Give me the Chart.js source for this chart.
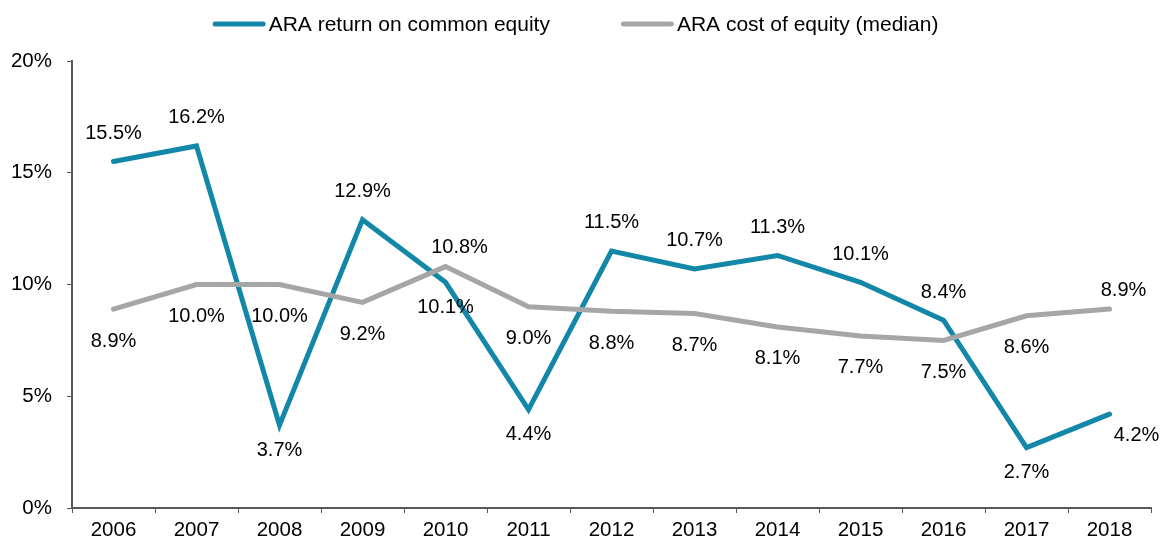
<!DOCTYPE html>
<html>
<head>
<meta charset="utf-8">
<script src="https://cdn.jsdelivr.net/npm/chart.js@4/dist/chart.umd.min.js"></script>
<style>
  html, body { margin: 0; padding: 0; background: #fff; }
  #wrap { width: 1163px; height: 545px; position: relative; }
</style>
</head>
<body>
<div id="wrap"><canvas id="chart"></canvas></div>
<script>
const years = ["2006","2007","2008","2009","2010","2011","2012","2013","2014","2015","2016","2017","2018"];
const roe = [15.5, 16.2, 3.7, 12.9, 10.1, 4.4, 11.5, 10.7, 11.3, 10.1, 8.4, 2.7, 4.2];
const coe = [8.9, 10.0, 10.0, 9.2, 10.8, 9.0, 8.8, 8.7, 8.1, 7.7, 7.5, 8.6, 8.9];
const yTicks = [0, 5, 10, 15, 20];

// where each value label sits: a = above, b = below, ar = above right, br = below right
const roeLabelPos = ["a","a","b","a","b","b","a","a","a","a","a","b","br"];
const coeLabelPos = ["b","b","b","b","ar","b","b","b","b","b","b","b","ar"];

const FONT = "'Liberation Sans', Arial, sans-serif";
const BLUE = "#1287a8";
const GREY = "#a6a6a6";
const AXIS = "#595959";

const labelOffsets = {
  roe: { a: [0, -28], b: [0, 25], ar: [14, -19], br: [27, 21] },
  coe: { a: [0, -19], b: [0, 32], ar: [14, -19], br: [27, 21] }
};

// value labels on each point
const valueLabels = {
  id: "valueLabels",
  afterDatasetsDraw(chart) {
    const ctx = chart.ctx;
    ctx.save();
    ctx.font = "20px " + FONT;
    ctx.fillStyle = "#000";
    ctx.textAlign = "center";
    ctx.textBaseline = "middle";
    chart.data.datasets.forEach((ds, i) => {
      const meta = chart.getDatasetMeta(i);
      const offs = labelOffsets[ds.key];
      meta.data.forEach((pt, j) => {
        const o = offs[ds.labelPos[j]];
        ctx.fillText(ds.data[j].toFixed(1) + "%", pt.x + o[0], pt.y + o[1]);
      });
    });
    ctx.restore();
  }
};

// legend drawn by hand so the line samples and spacing match
const lineLegend = {
  id: "lineLegend",
  afterDraw(chart) {
    const ctx = chart.ctx;
    const sample = 53, gap = 3, between = 71, y = 24;
    ctx.save();
    ctx.font = "21px " + FONT;
    const items = chart.data.datasets.map(ds => ({ ds, w: ctx.measureText(ds.label).width }));
    const total = items.reduce((s, it) => s + sample + gap + it.w, 0) + between * (items.length - 1);
    let x = (chart.width - 12 - total) / 2;
    items.forEach(it => {
      ctx.strokeStyle = it.ds.borderColor;
      ctx.lineWidth = 5;
      ctx.lineCap = "round";
      ctx.beginPath();
      ctx.moveTo(x + 2.5, y);
      ctx.lineTo(x + sample - 2.5, y);
      ctx.stroke();
      ctx.fillStyle = "#000";
      ctx.textBaseline = "middle";
      ctx.textAlign = "left";
      ctx.fillText(it.ds.label, x + sample + gap, y + 1);
      x += sample + gap + it.w + between;
    });
    ctx.restore();
  }
};

new Chart(document.getElementById("chart"), {
  type: "line",
  data: {
    labels: years,
    datasets: [
      {
        key: "roe",
        label: "ARA return on common equity",
        data: roe,
        labelPos: roeLabelPos,
        borderColor: BLUE,
        backgroundColor: BLUE,
        borderWidth: 5,
        borderCapStyle: "round",
        pointRadius: 0,
        tension: 0,
        order: 1
      },
      {
        key: "coe",
        label: "ARA cost of equity (median)",
        data: coe,
        labelPos: coeLabelPos,
        borderColor: GREY,
        backgroundColor: GREY,
        borderWidth: 5,
        borderCapStyle: "round",
        pointRadius: 0,
        tension: 0,
        order: 0
      }
    ]
  },
  options: {
    responsive: true,
    maintainAspectRatio: false,
    animation: false,
    layout: { padding: { top: 61, right: 12, left: 0, bottom: 0 } },
    plugins: {
      legend: { display: false },
      tooltip: { enabled: false }
    },
    scales: {
      x: {
        offset: true,
        grid: {
          offset: true,
          drawOnChartArea: false,
          drawTicks: true,
          tickLength: 5,
          color: AXIS,
          lineWidth: 1
        },
        border: { color: AXIS, width: 2 },
        ticks: {
          color: "#000",
          font: { family: FONT, size: 20.5 },
          padding: 5,
          maxRotation: 0,
          autoSkip: false
        },
        afterFit: s => { s.height = 37; }
      },
      y: {
        min: 0,
        max: 20,
        grid: {
          drawOnChartArea: false,
          drawTicks: true,
          tickLength: 5,
          color: AXIS,
          lineWidth: 1
        },
        border: { color: AXIS, width: 2 },
        afterBuildTicks: s => { s.ticks = yTicks.map(v => ({ value: v })); },
        ticks: {
          color: "#000",
          font: { family: FONT, size: 20.5 },
          padding: 15,
          callback: v => v + "%"
        },
        afterFit: s => { s.width = 72; }
      }
    }
  },
  plugins: [valueLabels, lineLegend]
});
</script>
</body>
</html>
